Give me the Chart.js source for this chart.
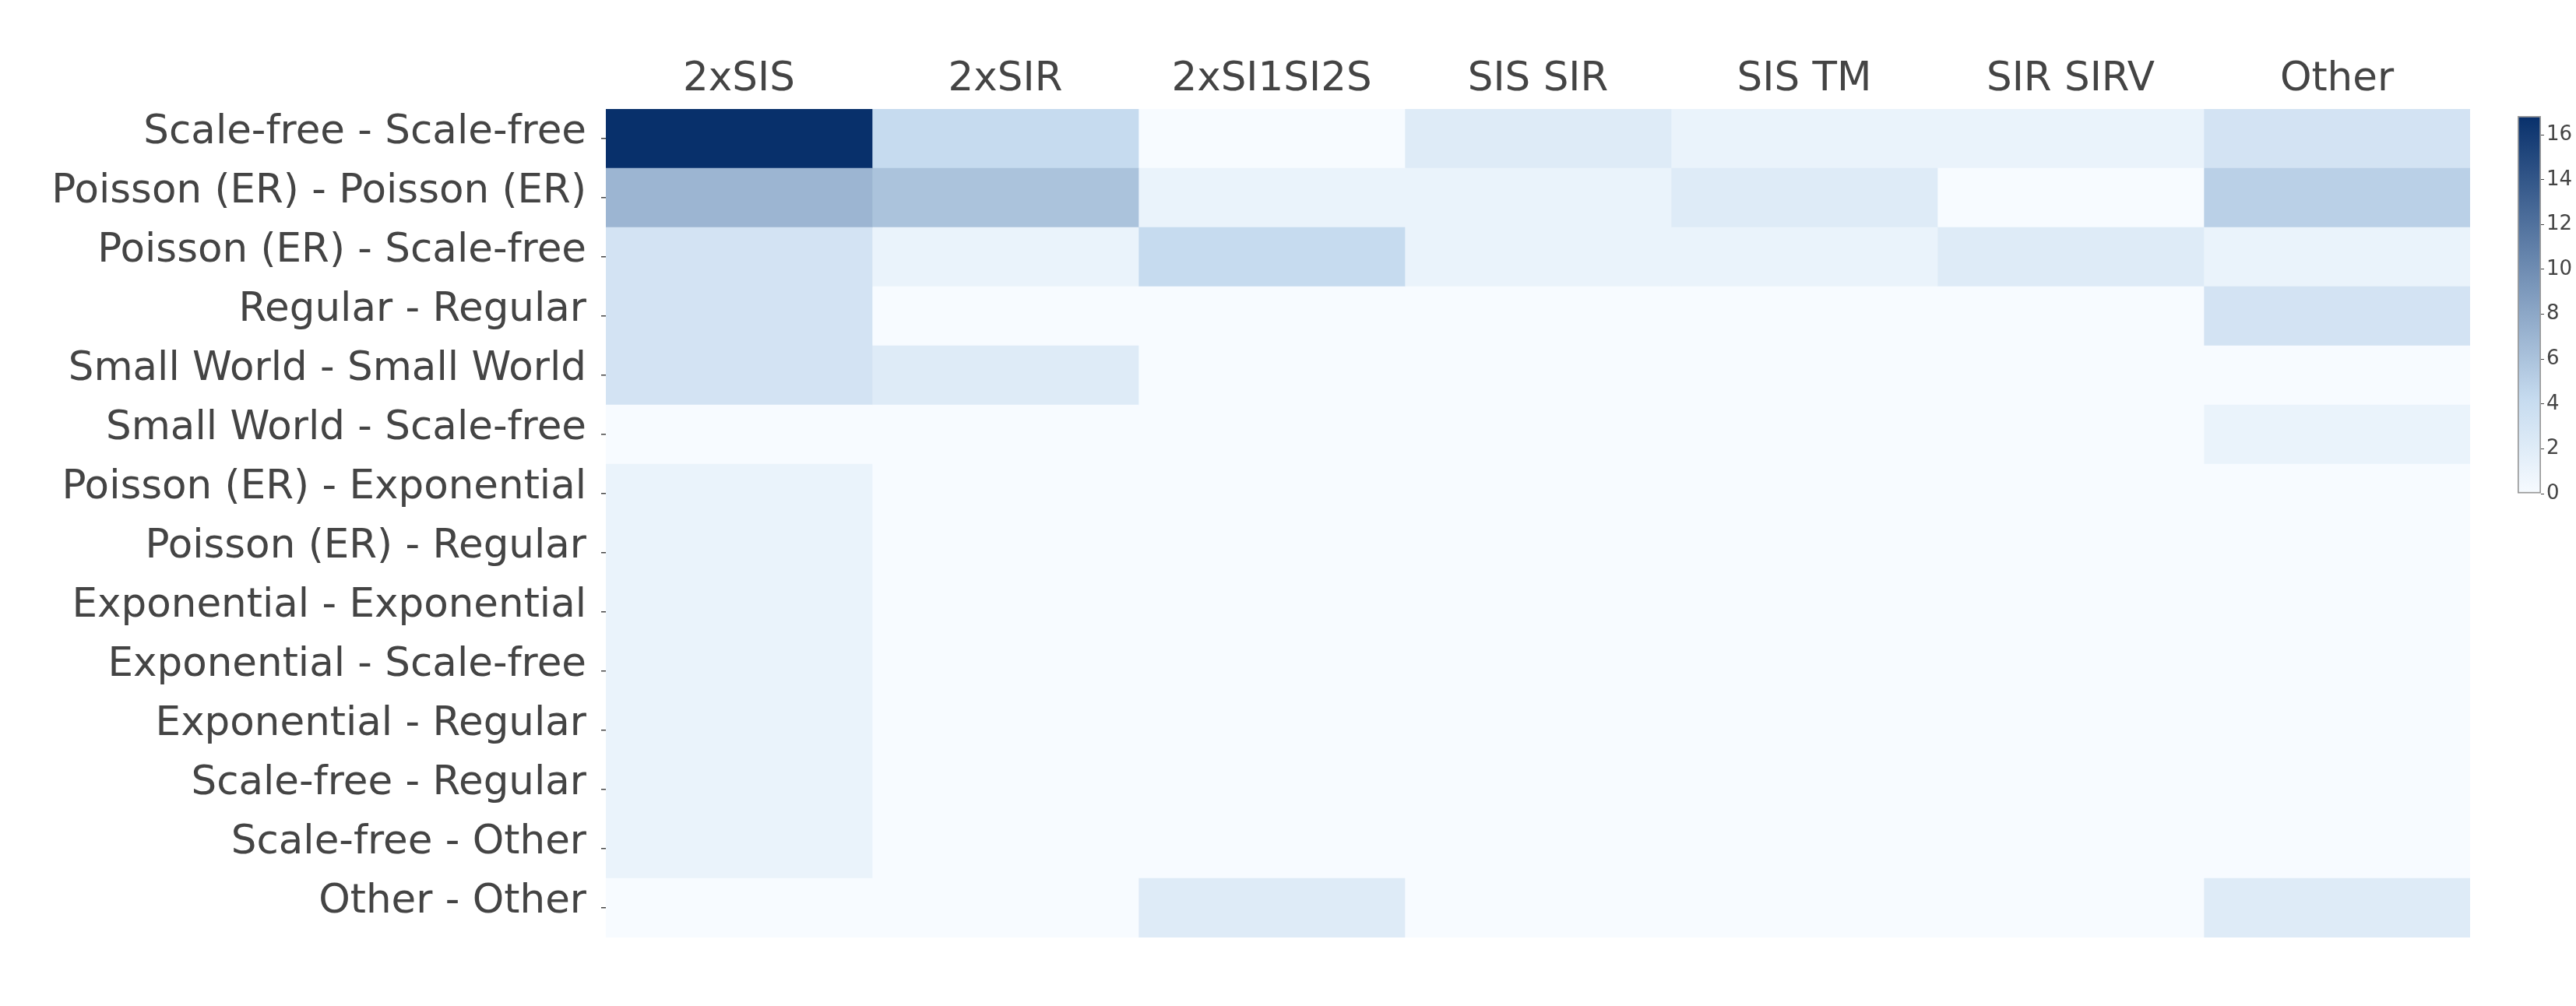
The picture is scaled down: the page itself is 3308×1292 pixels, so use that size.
<!DOCTYPE html>
<html>
<head>
<meta charset="utf-8">
<script src="https://cdn.jsdelivr.net/npm/chart.js@4.4.1/dist/chart.umd.min.js"></script>
<style>
  html, body { margin: 0; padding: 0; background: #ffffff; }
  #wrap { position: relative; width: 3308px; height: 1292px; overflow: hidden; }
  #main { position: absolute; left: 0; top: 0; }
  #cb { position: absolute; left: 3228px; top: 130px; }
</style>
</head>
<body>
<div id="wrap">
  <canvas id="main" width="3308" height="1292"></canvas>
  <canvas id="cb" width="80" height="530"></canvas>
</div>
<script>
// ---- data ----
const rowLabels = [
  'Scale-free - Scale-free',
  'Poisson (ER) - Poisson (ER)',
  'Poisson (ER) - Scale-free',
  'Regular - Regular',
  'Small World - Small World',
  'Small World - Scale-free',
  'Poisson (ER) - Exponential',
  'Poisson (ER) - Regular',
  'Exponential - Exponential',
  'Exponential - Scale-free',
  'Exponential - Regular',
  'Scale-free - Regular',
  'Scale-free - Other',
  'Other - Other'
];
const colLabels = ['2xSIS', '2xSIR', '2xSI1SI2S', 'SIS SIR', 'SIS TM', 'SIR SIRV', 'Other'];

// one array per column, in row order
const v2xSIS     = [16.84, 7.0, 3.1, 3.1, 3.1, 0, 1.1, 1.1, 1.1, 1.1, 1.1, 1.1, 1.1, 0];
const v2xSIR     = [4.2, 6.0, 1.1, 0, 2.1, 0, 0, 0, 0, 0, 0, 0, 0, 0];
const v2xSI1SI2S = [0, 1.1, 4.2, 0, 0, 0, 0, 0, 0, 0, 0, 0, 0, 2.1];
const vSISSIR    = [2.1, 1.1, 1.1, 0, 0, 0, 0, 0, 0, 0, 0, 0, 0, 0];
const vSISTM     = [1.1, 2.1, 1.1, 0, 0, 0, 0, 0, 0, 0, 0, 0, 0, 0];
const vSIRSIRV   = [1.1, 0, 2.1, 0, 0, 0, 0, 0, 0, 0, 0, 0, 0, 0];
const vOther     = [3.1, 5.0, 1.1, 3.1, 0, 1.1, 0, 0, 0, 0, 0, 0, 0, 2.1];

const colorbarTicks = [0, 2, 4, 6, 8, 10, 12, 14, 16];
const zMin = 0;
const zMax = 16.84;

// ---- styling ----
const FONT = "'DejaVu Sans', Verdana, sans-serif";
const TEXT = '#444444';
const scaleStops = [
  [0, [247, 251, 255]],
  [0.125, [222, 235, 247]],
  [0.25, [198, 219, 239]],
  [1, [8, 48, 107]]
];

function colorFor(v) {
  let f = (v - zMin) / (zMax - zMin);
  f = Math.max(0, Math.min(1, f));
  for (let i = 1; i < scaleStops.length; i++) {
    const [p1, c1] = scaleStops[i];
    const [p0, c0] = scaleStops[i - 1];
    if (f <= p1) {
      const t = (f - p0) / (p1 - p0);
      const c = c0.map((a, k) => Math.round(a + (c1[k] - a) * t));
      return `rgb(${c[0]},${c[1]},${c[2]})`;
    }
  }
  const c = scaleStops[scaleStops.length - 1][1];
  return `rgb(${c[0]},${c[1]},${c[2]})`;
}

const columnValues = [v2xSIS, v2xSIR, v2xSI1SI2S, vSISSIR, vSISTM, vSIRSIRV, vOther];

// ---- heatmap (stacked horizontal bars, one cell per column dataset) ----
new Chart(document.getElementById('main'), {
  type: 'bar',
  data: {
    labels: rowLabels,
    datasets: colLabels.map((c, j) => ({
      label: c,
      data: rowLabels.map(() => 1),
      backgroundColor: columnValues[j].map(colorFor),
      borderWidth: 0,
      barPercentage: 1,
      categoryPercentage: 1
    }))
  },
  options: {
    indexAxis: 'y',
    responsive: false,
    animation: false,
    devicePixelRatio: 1,
    layout: { padding: { left: 0, top: 0, right: 3308 - 3172, bottom: 1292 - 1204 } },
    plugins: { legend: { display: false }, tooltip: { enabled: false } },
    scales: {
      x: {
        type: 'linear',
        position: 'top',
        stacked: true,
        min: 0,
        max: colLabels.length,
        afterBuildTicks: s => { s.ticks = colLabels.map((c, i) => ({ value: i + 0.5 })); },
        afterFit: s => { s.height = 140; },
        grid: { display: false, drawTicks: false },
        border: { display: false },
        ticks: {
          color: TEXT, font: { family: FONT, size: 51.5 }, padding: 6,
          maxRotation: 0, autoSkip: false,
          callback: v => colLabels[Math.floor(v)]
        }
      },
      y: {
        type: 'category',
        stacked: true,
        afterFit: s => { s.width = 778; },
        grid: { display: true, drawOnChartArea: false, offset: false, tickLength: 6, color: TEXT, tickColor: TEXT, lineWidth: 1.5 },
        border: { display: false },
        ticks: { color: TEXT, font: { family: FONT, size: 51.5 }, padding: 19, labelOffset: -7, autoSkip: false }
      }
    }
  }
});

// ---- colour bar ----
new Chart(document.getElementById('cb'), {
  type: 'bar',
  data: {
    labels: [''],
    datasets: [{
      data: [zMax],
      backgroundColor: ctx => {
        const ca = ctx.chart.chartArea;
        if (!ca) return null;
        const g = ctx.chart.ctx.createLinearGradient(0, ca.bottom, 0, ca.top);
        scaleStops.forEach(([p, c]) => g.addColorStop(p, `rgb(${c[0]},${c[1]},${c[2]})`));
        return g;
      },
      borderColor: '#9a9a9a',
      borderWidth: 2,
      borderSkipped: false,
      barPercentage: 1,
      categoryPercentage: 1
    }]
  },
  options: {
    responsive: false,
    animation: false,
    devicePixelRatio: 1,
    layout: { padding: { left: 5, top: 19, bottom: 26, right: 0 } },
    plugins: { legend: { display: false }, tooltip: { enabled: false } },
    scales: {
      x: { display: false },
      y: {
        position: 'right',
        min: zMin,
        max: zMax,
        afterBuildTicks: s => { s.ticks = colorbarTicks.map(v => ({ value: v })); },
        afterFit: s => { s.width = 45; },
        grid: { drawOnChartArea: false, tickLength: 4, color: TEXT, tickColor: TEXT },
        border: { display: false },
        ticks: { color: TEXT, font: { family: FONT, size: 26 }, padding: 3 }
      }
    }
  }
});
</script>
</body>
</html>
